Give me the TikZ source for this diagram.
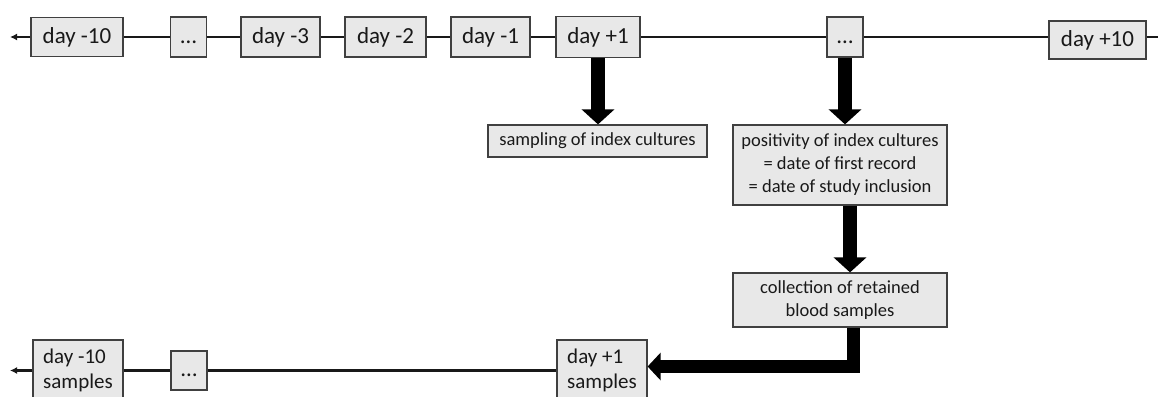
\documentclass[tikz,border=0pt]{standalone}
\usepackage{fontspec}
\setmainfont{Carlito}
\usetikzlibrary{arrows.meta}
\definecolor{boxfill}{RGB}{232,232,232}
\definecolor{boxline}{RGB}{64,64,64}
\definecolor{ink}{RGB}{25,25,25}
\begin{document}
\begin{tikzpicture}[x=1pt,y=-1pt,
  daybox/.style={draw=boxline,fill=boxfill,line width=1.2pt,inner sep=0pt,align=center,text=ink,font=\fontsize{23}{26}\selectfont},
  smallbox/.style={daybox,align=left,font=\fontsize{21}{25}\selectfont},
  notebox/.style={daybox,font=\fontsize{18.5}{23}\selectfont},
  tl/.style={line width=2.2pt,draw=ink},
  tltip/.style={tl,-{Latex[length=7pt,width=7pt]}},
  bigarrow/.style={draw=black,line width=14pt,-{Triangle[width=32pt,length=15pt]}},
  bigarrowb/.style={draw=black,line width=13pt,-{Triangle[width=27pt,length=13pt]}}]
\clip (0,0) rectangle (1158,396);
% top row
\node[daybox,minimum width=92pt,minimum height=39pt] (dm10) at (77,37) {day -10};
\node[daybox,minimum width=36pt,minimum height=40pt] (dots1) at (188.5,37) {\vphantom{dy}…};
\node[daybox,minimum width=79pt,minimum height=40pt] (dm3) at (280.5,37) {day -3};
\node[daybox,minimum width=81pt,minimum height=40pt] (dm2) at (385.5,37) {day -2};
\node[daybox,minimum width=79pt,minimum height=40pt] (dm1) at (490.5,37) {day -1};
\node[daybox,minimum width=84pt,minimum height=41pt] (dp1) at (598,37) {day +1};
\node[daybox,minimum width=36pt,minimum height=40pt] (dots2) at (845,37) {\vphantom{dy}…};
\node[daybox,minimum width=97pt,minimum height=38pt] (dp10) at (1097.5,40) {day +10};
\coordinate (ltop) at (10,37);
\coordinate (rtop) at (1162,37);
\draw[tltip] (dm10.west) -- (ltop);
\draw[tl] (dm10.east) -- (dots1.west);
\draw[tl] (dots1.east) -- (dm3.west);
\draw[tl] (dm3.east) -- (dm2.west);
\draw[tl] (dm2.east) -- (dm1.west);
\draw[tl] (dm1.east) -- (dp1.west);
\draw[tl] (dp1.east) -- (dots2.west);
\draw[tl] (dots2.east) -- (dots2.east -| dp10.west);
\draw[tl] (dp10.east |- rtop) -- (rtop);
% notes
\node[notebox,minimum width=219pt,minimum height=32pt] (samp) at (597.5,141) {sampling of index cultures};
\node[notebox,minimum width=214pt,minimum height=80pt] (pos) at (840,165) {positivity of index cultures\\= date of first record\\= date of study inclusion};
\node[notebox,minimum width=214pt,minimum height=54pt] (coll) at (840,300) {collection of retained\\blood samples};
% bottom row
\node[smallbox,minimum width=90pt,minimum height=61pt] (dm10s) at (78,370.5) {day -10\\samples};
\node[daybox,minimum width=36pt,minimum height=39pt] (dots3) at (189,370.5) {\vphantom{dy}…};
\node[smallbox,minimum width=90pt,minimum height=61pt] (dp1s) at (602,370.5) {day +1\\samples};
\coordinate (lbot) at (10,370.5);
\draw[tltip] (dm10s.west) -- (lbot);
\draw[tl] (dm10s.east) -- (dots3.west);
\draw[tl] (dots3.east) -- (dp1s.west);
% big arrows
\draw[bigarrow] (dp1.south) -- (dp1.south |- samp.north);
\draw[bigarrow] (dots2.south) -- (dots2.south |- pos.north);
\draw[bigarrow] ([xshift=10pt]pos.south) -- ([xshift=10pt]coll.north);
\draw[bigarrowb] ([xshift=13.5pt]coll.south) |- ([yshift=4pt]dp1s.east);
\end{tikzpicture}
\end{document}
